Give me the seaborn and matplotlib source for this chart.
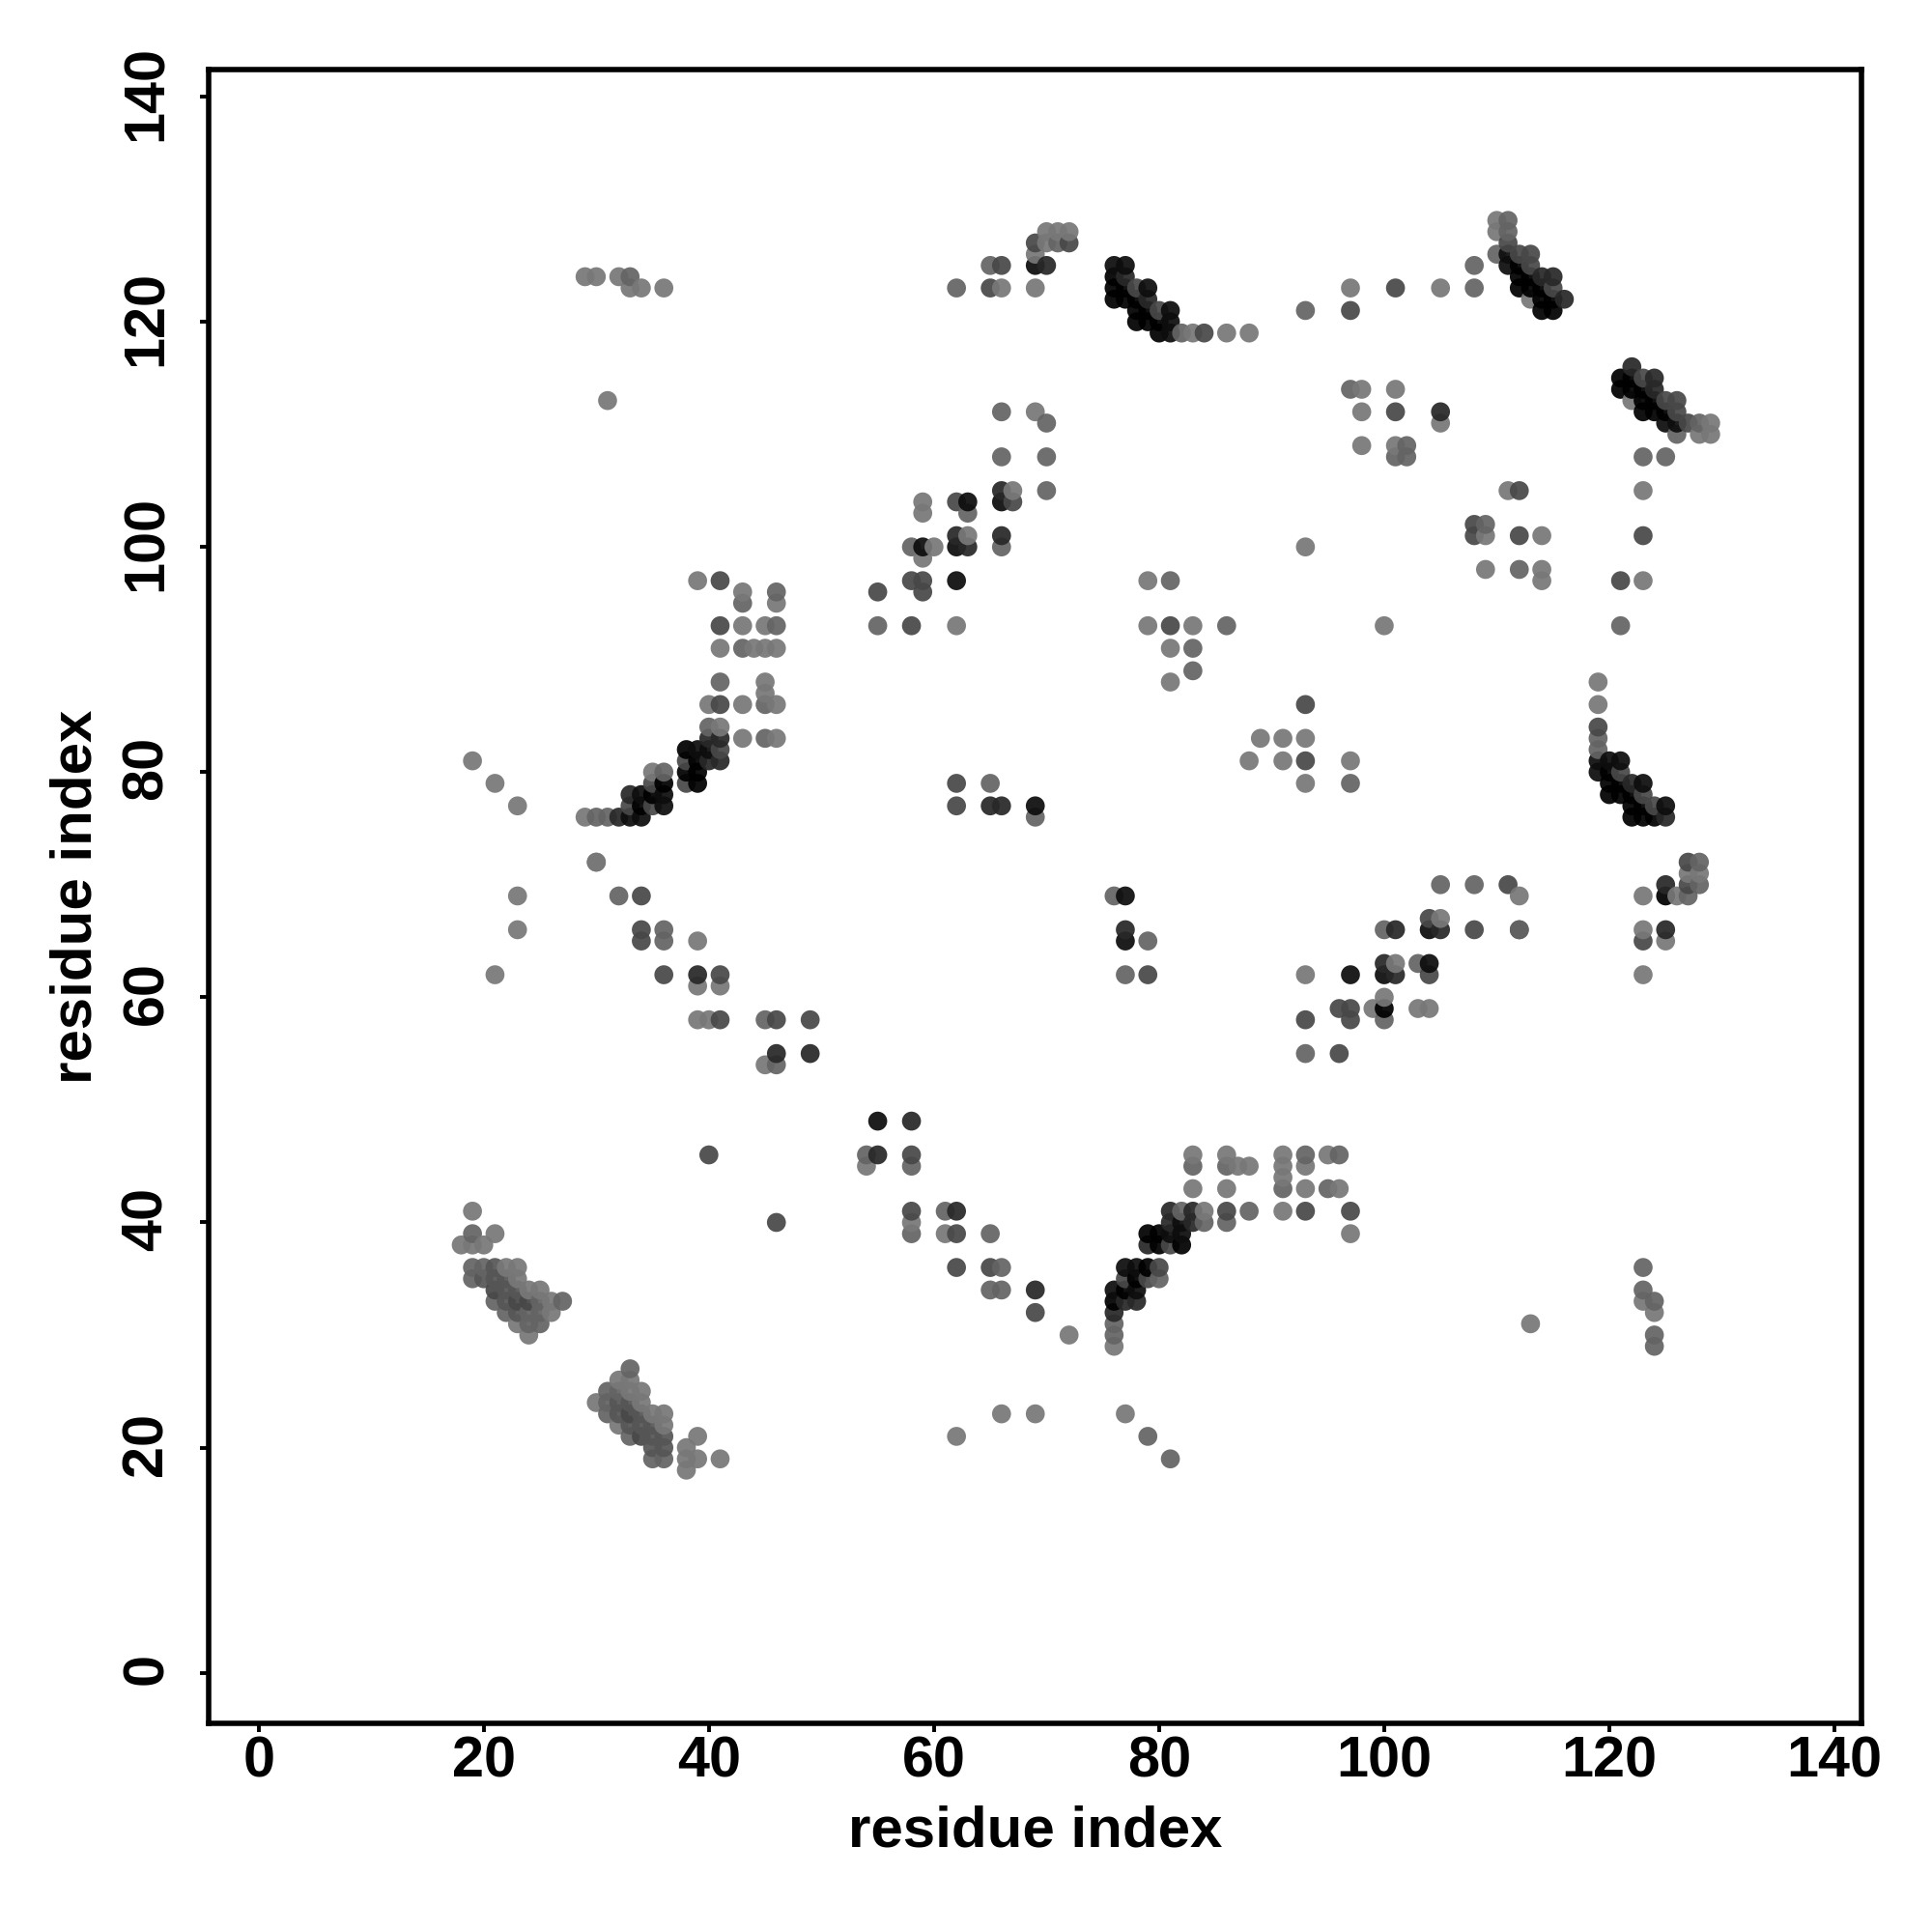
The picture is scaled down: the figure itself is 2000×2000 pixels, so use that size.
import matplotlib
matplotlib.use("Agg")
import matplotlib.pyplot as plt
from matplotlib.transforms import ScaledTranslation
import pandas as pd
import seaborn as sns

tick_values = [0, 20, 40, 60, 80, 100, 120, 140]
axis_title = "residue index"

# each row: one y residue, the x residues on it, and one grey class per contact
row_y = [41, 39, 38, 36, 35, 34, 33, 32, 31, 30]
row_x = [[19], [19, 21], [18, 19, 20], [19, 20, 21, 22, 23], [19, 20, 21, 22, 23],
         [21, 22, 23, 24, 25], [21, 22, 23, 24, 25, 26, 27], [22, 23, 24, 25, 26], [23, 24, 25], [24]]
row_tone = ["L", "ML", "LLL", "MMCLL", "MCCCL", "DCCLL", "MCDDMLM", "MCMML", "LMM", "L"]

row_y += [27, 26, 25, 24, 23, 22, 21, 20, 19, 18]
row_x += [[33], [32, 33], [31, 32, 33, 34], [30, 31, 32, 33, 34], [31, 32, 33, 34, 35, 36],
          [32, 33, 34, 35, 36], [33, 34, 35, 36, 39], [35, 36, 38], [35, 36, 38, 39, 41], [38]]
row_tone += ["M", "LL", "MMLL", "LMCCL", "MCDCLL", "LCCCL", "MDCCL", "CCL", "MMLLL", "L"]

row_y += [97, 96, 95, 93, 91, 88, 87, 86, 84, 83, 82, 81, 80, 79, 78, 77, 76, 72]
row_x += [[39, 41], [43, 46], [43, 46], [41, 43, 45, 46], [41, 43, 44, 45, 46], [41, 45], [45],
          [40, 41, 43, 45, 46], [40, 41], [40, 41, 43, 45, 46], [38, 39, 40, 41], [38, 39, 40, 41],
          [35, 36, 38, 39], [35, 36, 38, 39], [33, 34, 35, 36], [33, 34, 35, 36],
          [29, 30, 31, 32, 33, 34], [30]]
row_tone += ["LD", "LM", "ML", "DLLM", "LMLLL", "ML", "L", "LDLML", "ML", "KKLML", "XBBD", "DXKK",
             "LMXX", "DXDX", "KBXB", "DXDB", "LMMKBB", "L"]

row_y += [46, 45, 44, 43, 41, 40, 39, 38, 36, 35, 34, 33, 32, 31, 30, 29, 23, 21, 19]
row_x += [[83, 86, 91, 93, 95, 96], [83, 86, 87, 88, 91, 93], [91], [83, 86, 91, 93, 95, 96],
          [81, 82, 83, 84, 86, 88, 91, 93, 97], [81, 82, 83, 84, 86], [79, 80, 81, 82, 97],
          [79, 80, 81, 82], [77, 78, 79, 80], [77, 78, 79, 80], [76, 77, 78], [76, 77, 78],
          [76], [76], [76], [76], [77], [79], [81]]
row_tone += ["LLLMLM", "MMLLLL", "L", "LLMLML", "KMKLDMLDD", "KBKMM", "XXBBL", "KXDX", "BBXD", "DXDM",
             "BXB", "XKK", "K", "M", "M", "L", "L", "M", "M"]

row_y += [125, 124, 123, 122, 121, 120, 119, 123]
row_x += [[76, 77], [76, 77], [76, 77, 78, 79], [76, 77, 78, 79], [78, 79, 80, 81, 93, 97],
          [78, 79, 80, 81], [80, 81, 82, 83, 84, 86, 88], [97]]
row_tone += ["BB", "XK", "XXDB", "XXXK", "XXDBMD", "XXXB", "XBMLDLL", "L"]

row_y += [125, 123, 129, 128, 127, 126, 125, 124, 123, 122, 121]
row_x += [[108], [108], [110, 111], [110, 111], [111], [110, 111, 112, 113], [111, 112, 113],
          [112, 113, 114, 115], [112, 113, 114, 115], [113, 114, 115, 116], [114, 115]]
row_tone += ["M", "M", "LM", "LM", "D", "MBDD", "BXD", "XXKK", "XXXD", "LXXK", "XX"]

row_y += [116, 115, 114, 113, 112, 111, 110, 108]
row_x += [[122], [121, 122, 123, 124], [121, 122, 123, 124], [122, 123, 124, 125, 126],
          [123, 124, 125, 126], [125, 126, 127, 128, 129], [126, 128, 129], [123, 125]]
row_tone += ["K", "XXDK", "XXXK", "LXXDD", "XXXD", "BBDML", "MLL", "MM"]

row_y += [88, 86, 84, 83, 82, 81, 80, 79, 78, 77, 76, 72, 71, 70, 69, 66, 65, 62]
row_x += [[119], [119], [119], [119], [119], [119, 120, 121], [119, 120, 121], [120, 121, 122, 123],
          [120, 121, 122, 123], [122, 123, 124, 125], [122, 123, 124, 125], [127, 128], [127, 128],
          [125, 127, 128], [123, 125, 126, 127], [123, 125], [123, 125], [123]]
row_tone += ["L", "L", "D", "M", "M", "BBB", "BXD", "XXKB", "XXXD", "XXDB", "XXXK", "DM", "LL",
             "KDM", "LXLM", "LK", "DL", "L"]

row_y += [112, 111, 108, 105, 104, 103, 101, 100, 99, 97, 96, 93]
row_x += [[66, 69], [70], [66, 70], [66, 67, 70], [59, 62, 63, 66, 67], [59, 63], [62, 63, 66],
          [58, 59, 60, 62, 63, 66], [59], [58, 59, 62], [55, 59], [55, 58, 62]]
row_tone += ["ML", "M", "MM", "KLM", "LDBBD", "LM", "KLK", "MBLBKM", "L", "DDB", "DD", "MDL"]

row_y += [70, 69, 67, 66, 63, 62, 60, 59, 58, 55]
row_x += [[105, 108, 111], [112], [104, 105], [100, 101, 104, 105, 108, 112], [100, 101, 103, 104],
          [93, 97, 100, 101, 104], [100], [96, 97, 99, 100, 103, 104], [93, 97, 100], [93, 96]]
row_tone += ["MMD", "L", "DL", "MKBKDD", "KLMB", "LBBKD", "L", "DDLXLL", "DDM", "MD"]

row_y += [124, 123, 113, 81, 79, 77, 72, 69, 66, 65, 62, 61, 58, 55, 54]
row_x += [[29, 30, 32, 33], [33, 34, 36], [31], [19], [21], [23], [30], [23, 32, 34], [23, 34, 36],
          [34, 36, 39], [21, 36, 39, 41], [39, 41], [39, 40, 41, 45, 46, 49], [46, 49], [45, 46]]
row_tone += ["LLLM", "LLL", "L", "L", "L", "L", "L", "LMD", "LDM", "DML", "LDKD", "LL", "LLDMDD",
             "KK", "LM"]

row_y += [49, 46, 45, 41, 40, 39, 36, 34, 32, 30, 23, 21]
row_x += [[55, 58], [40, 54, 55, 58], [54, 58], [58, 61, 62], [46, 58], [58, 61, 62, 65], [62, 65, 66],
          [65, 66, 69], [69], [72], [66, 69], [62]]
row_tone += ["BK", "DMKD", "LM", "DMK", "DL", "MLDM", "DDM", "MMK", "D", "L", "LL", "L"]

row_y += [31, 36, 34, 33, 32, 30, 29]
row_x += [[113], [123], [123], [123, 124], [124], [124], [124]]
row_tone += ["L", "M", "M", "LM", "L", "M", "M"]

row_y += [128, 127, 126, 125, 123]
row_x += [[70, 71, 72], [69, 70, 71, 72], [69], [65, 66, 69, 70], [62, 65, 66, 69]]
row_tone += ["LLL", "DLMD", "L", "MDBK", "MDLL"]

row_y += [123, 114, 112, 111, 109, 108]
row_x += [[101, 105], [97, 98, 101], [98, 101, 105], [105], [98, 101, 102], [101, 102]]
row_tone += ["DL", "MLL", "LDK", "L", "LLM", "MM"]

row_y += [105, 102, 101, 98, 97, 93]
row_x += [[111, 112, 123], [108, 109], [108, 109, 112, 114, 123], [109, 112, 114], [114, 121, 123], [121]]
row_tone += ["LDL", "DM", "DLDLD", "LML", "LDL", "M"]

row_y += [100, 97, 93, 91, 89, 88, 86, 83, 81, 79]
row_x += [[93], [79, 81], [79, 81, 83, 86, 100], [81, 83], [83], [81], [93], [89, 91, 93],
          [88, 91, 93, 97], [93, 97]]
row_tone += ["L", "LM", "LDLML", "LM", "M", "L", "D", "LLL", "LLDL", "LM"]

row_y += [79, 77, 76, 69, 66, 65, 62, 66]
row_x += [[62, 65], [62, 65, 66, 69], [69], [76, 77], [77], [77, 79], [77, 79], [112]]
row_tone += ["DM", "DKKB", "M", "MB", "K", "BM", "MD", "M"]

TONE_GREY = {"L": "#787878", "M": "#646464", "C": "#565656", "D": "#484848",
             "K": "#282828", "B": "#0d0d0d", "X": "#000000"}

records = []
for y_val, xs, tones in zip(row_y, row_x, row_tone):
    assert len(xs) == len(tones), (y_val, xs, tones)
    for x_val, tone in zip(xs, tones):
        records.append((x_val, y_val, tone))
contacts = pd.DataFrame(records, columns=["x", "y", "tone"]).sort_values(["x", "y"])

sns.set_theme(style="white", rc={"font.family": ["Liberation Sans", "DejaVu Sans"]})
plt.rcParams["font.family"] = ["Liberation Sans", "DejaVu Sans"]
plt.rcParams["font.weight"] = "bold"

fig = plt.figure(figsize=(10, 10), dpi=200)
ax = fig.add_axes([216 / 2000, 1 - 1784 / 2000, 1711 / 2000, 1712 / 2000])
sns.scatterplot(data=contacts, x="x", y="y", hue="tone", palette=TONE_GREY, s=50,
                linewidth=0, alpha=0.93, legend=False, ax=ax)

ax.set_xlim(-4.44, 142.4)
ax.set_ylim(-4.49, 142.4)
ax.set_xticks(tick_values)
ax.set_yticks(tick_values)
ax.tick_params(axis="both", which="major", length=3.2, width=1.4, color="black", labelcolor="black",
               labelsize=21.4, bottom=True, left=True)
ax.tick_params(axis="x", pad=1.3)
ax.tick_params(axis="y", pad=9.8, labelrotation=90)
nudge_up = ScaledTranslation(0, 1.4 / 72, fig.dpi_scale_trans)
for label in ax.get_yticklabels():
    label.set_va("center")
    label.set_transform(label.get_transform() + nudge_up)
for spine in ax.spines.values():
    spine.set_visible(True)
    spine.set_color("black")
    spine.set_linewidth(2.0)
ax.grid(False)
ax.set_xlabel(axis_title, fontsize=21.6, fontweight="bold", color="black", labelpad=6)
ax.set_ylabel(axis_title, fontsize=21.6, fontweight="bold", color="black", labelpad=6.6)

fig.savefig("out.png", dpi=200, facecolor="white")
